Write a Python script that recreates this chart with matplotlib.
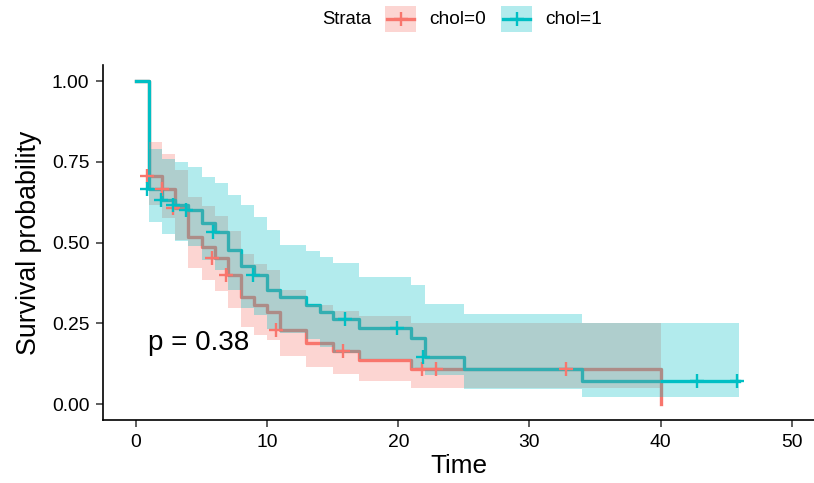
import matplotlib
matplotlib.use("Agg")
import matplotlib.pyplot as plt
from matplotlib.patches import Rectangle
from matplotlib.lines import Line2D

plt.rcParams["font.family"] = ["Liberation Sans", "DejaVu Sans"]

RED = "#F8766D"
TEAL = "#00BFC4"

# ── Kaplan-Meier estimates, chol=0 ─────────────────────────────
time0 = [0, 1, 2, 3, 4, 5, 6, 7, 8, 9, 10, 11, 13, 15, 17, 21, 40]
surv0 = [1.0, 0.706, 0.667, 0.607, 0.518, 0.485, 0.452, 0.400, 0.333, 0.306,
         0.286, 0.229, 0.188, 0.164, 0.137, 0.107, 0.0]
upper0 = [1.0, 0.810, 0.774, 0.724, 0.640, 0.614, 0.583, 0.537, 0.465, 0.435,
          0.415, 0.352, 0.307, 0.289, 0.274, 0.252, 0.252]
lower0 = [1.0, 0.615, 0.575, 0.509, 0.420, 0.383, 0.350, 0.298, 0.239, 0.215,
          0.197, 0.149, 0.115, 0.093, 0.070, 0.050, 0.050]
cens_t0 = [0.85, 2.0, 2.85, 5.8, 6.9, 10.7, 15.8, 21.8, 22.9, 32.8]
cens_s0 = [0.706, 0.667, 0.607, 0.452, 0.400, 0.229, 0.164, 0.107, 0.107, 0.107]

# ── Kaplan-Meier estimates, chol=1 ─────────────────────────────
time1 = [0, 1, 2, 3, 4, 5, 6, 7, 8, 9, 10, 11, 13, 14, 15, 17, 21, 22, 25, 34, 46]
surv1 = [1.0, 0.667, 0.633, 0.616, 0.600, 0.560, 0.533, 0.478, 0.428, 0.400,
         0.353, 0.330, 0.308, 0.285, 0.262, 0.234, 0.203, 0.146, 0.107, 0.072, 0.072]
upper1 = [1.0, 0.790, 0.760, 0.750, 0.735, 0.704, 0.683, 0.647, 0.616, 0.580,
          0.539, 0.492, 0.475, 0.455, 0.436, 0.394, 0.370, 0.310, 0.280, 0.252, 0.252]
lower1 = [1.0, 0.563, 0.527, 0.506, 0.490, 0.445, 0.416, 0.353, 0.297, 0.276,
          0.231, 0.221, 0.200, 0.178, 0.157, 0.139, 0.111, 0.090, 0.046, 0.021, 0.021]
cens_t1 = [0.85, 1.9, 2.8, 3.8, 5.9, 8.9, 15.9, 19.9, 21.9, 42.8, 45.8]
cens_s1 = [0.667, 0.633, 0.616, 0.600, 0.533, 0.400, 0.262, 0.234, 0.146, 0.072, 0.072]

pval_text = "p = 0.38"

fig = plt.figure(figsize=(8.14, 4.83), dpi=100)
ax = fig.add_axes([0.1268, 0.130, 0.8732, 0.7356])

# survival curves
ax.step(time0, surv0, where="post", color=RED, lw=2.4, zorder=2)
ax.step(time1, surv1, where="post", color=TEAL, lw=2.4, zorder=2)

# confidence bands (drawn over the curves)
ax.fill_between(time0, lower0, upper0, step="post", color=RED, alpha=0.3, lw=0, zorder=3)
ax.fill_between(time1, lower1, upper1, step="post", color=TEAL, alpha=0.3, lw=0, zorder=3)

# censor ticks
ax.plot(cens_t0, cens_s0, ls="none", marker="+", ms=10.5, mew=1.7, color=RED, zorder=4)
ax.plot(cens_t1, cens_s1, ls="none", marker="+", ms=10.5, mew=1.7, color=TEAL, zorder=4)

ax.text(0.9, 0.19, pval_text, fontsize=20, ha="left", va="center", color="black")

ax.set_xlim(-2.5, 51.7)
ax.set_ylim(-0.05, 1.05)
ax.set_xticks([0, 10, 20, 30, 40, 50])
ax.set_yticks([0, 0.25, 0.5, 0.75, 1.0])
ax.set_yticklabels(["0.00", "0.25", "0.50", "0.75", "1.00"])
ax.tick_params(labelsize=13.9, length=5, width=1.1, color="#333333",
               labelcolor="black", pad=5)
for side in ["top", "right"]:
    ax.spines[side].set_visible(False)
for side in ["left", "bottom"]:
    ax.spines[side].set_linewidth(1.2)
    ax.spines[side].set_color("black")
ax.set_xlabel("Time", fontsize=18.8, labelpad=2)
ax.set_ylabel("Survival probability", fontsize=19.3, labelpad=7)

# legend strip on top
W, H = 814.0, 483.0
def fx(px):
    return px / W
def fy(py):
    return 1 - py / H

fig.text(fx(322), fy(19), "Strata", fontsize=13.3, ha="left", va="center")
for x0, col, lab in [(385, RED, "chol=0"), (501, TEAL, "chol=1")]:
    fig.add_artist(Rectangle((fx(x0), fy(32)), fx(31), 26 / H, transform=fig.transFigure,
                             facecolor=col, alpha=0.3, lw=0))
    fig.add_artist(Line2D([fx(x0 + 2), fx(x0 + 29)], [fy(19), fy(19)],
                          transform=fig.transFigure, color=col, lw=2.4))
    fig.add_artist(Line2D([fx(x0 + 15.5)], [fy(19)], transform=fig.transFigure,
                          color=col, marker="+", ms=10.5, mew=1.7, ls="none"))
    fig.text(fx(x0 + 44), fy(19), lab, fontsize=13.8, ha="left", va="center")

fig.savefig("out.png", dpi=100)
